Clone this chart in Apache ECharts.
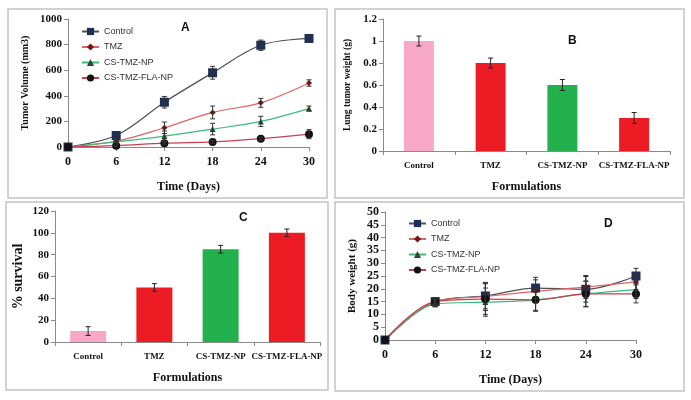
<!DOCTYPE html>
<html>
<head>
<meta charset="utf-8">
<script src="https://cdn.jsdelivr.net/npm/echarts@6/dist/echarts.min.js"></script>
<style>html,body{margin:0;padding:0;background:#fff;}#c{width:691px;height:400px;}</style>
</head>
<body>
<div id="c"></div>
<script>
// ---- Data ----
var days = [0, 6, 12, 18, 24, 30];
var seriesNames = ['Control', 'TMZ', 'CS-TMZ-NP', 'CS-TMZ-FLA-NP'];
// Panel A: tumor volume (mm3)
var volControl = [0, 90, 350, 580, 795, 848];
var volTMZ = [0, 45, 150, 270, 345, 500];
var volNP = [0, 40, 85, 140, 200, 300];
var volFLA = [0, 10, 30, 40, 65, 100];
var volControlErr = [0, 15, 45, 50, 40, 20];
var volTMZErr = [0, 10, 45, 50, 35, 25];
var volNPErr = [0, 10, 40, 45, 40, 20];
var volFLAErr = [0, 5, 8, 10, 12, 35];
// Panel B: lung tumor weight (g)
var formulations = ['Control', 'TMZ', 'CS-TMZ-NP', 'CS-TMZ-FLA-NP'];
var lungWeight = [1.0, 0.8, 0.6, 0.3];
var lungWeightErr = [0.045, 0.045, 0.05, 0.05];
// Panel C: % survival
var survival = [10, 50, 85, 100];
var survivalErr = [4, 3.5, 3.5, 3.5];
// Panel D: body weight (g)
var bwControl = [0, 15, 17.2, 20.3, 19.8, 25];
var bwTMZ = [0, 15, 17, 19, 20.7, 22.7];
var bwNP = [0, 14, 14.8, 15.6, 18, 19.7];
var bwFLA = [0, 15, 16, 15.7, 18, 18];
var bwControlErr = [0, 1, 5, 4.2, 5, 3];
var bwTMZErr = [0, 1, 5.5, 4.5, 4.5, 3];
var bwNPErr = [0, 1, 5.5, 4, 5, 3.5];
var bwFLAErr = [0, 1, 6, 4.5, 5, 3.5];

// ---- Styles ----
var lineColors = ['#505050', '#E06262', '#3DBA7A', '#C8404E'];
var markerColors = ['#1E2E55', '#7A1414', '#2E4A2E', '#111111'];
var symbols = ['rect', 'diamond', 'triangle', 'circle'];
var symbolSizes = [9, 6, 6, 8];
var barColors = ['#F7A8C6', '#ED1C24', '#22B14C', '#ED1C24'];
var serif = 'Liberation Serif';
var sans = 'Liberation Sans';

function errData(xs, vals, errs) {
  var out = [];
  for (var i = 0; i < vals.length; i++) {
    if (errs[i] > 0) out.push([xs[i], vals[i] - errs[i], vals[i] + errs[i]]);
  }
  return out;
}
function errSeries(xi, yi, data, color) {
  return {
    type: 'custom', xAxisIndex: xi, yAxisIndex: yi, z: 5, silent: true,
    data: data,
    renderItem: function (params, api) {
      var lo = api.coord([api.value(0), api.value(1)]);
      var hi = api.coord([api.value(0), api.value(2)]);
      var w = 2.5;
      var st = { stroke: color, lineWidth: 1 };
      return { type: 'group', children: [
        { type: 'line', shape: { x1: lo[0], y1: lo[1], x2: hi[0], y2: hi[1] }, style: st },
        { type: 'line', shape: { x1: lo[0] - w, y1: lo[1], x2: lo[0] + w, y2: lo[1] }, style: st },
        { type: 'line', shape: { x1: hi[0] - w, y1: hi[1], x2: hi[0] + w, y2: hi[1] }, style: st }
      ]};
    }
  };
}
function lineSeries(i, xi, yi, vals) {
  var d = [];
  for (var k = 0; k < days.length; k++) d.push([days[k], vals[k]]);
  return {
    name: seriesNames[i], type: 'line', xAxisIndex: xi, yAxisIndex: yi,
    smooth: 0.35, data: d, symbol: symbols[i], symbolSize: symbolSizes[i],
    lineStyle: { color: lineColors[i], width: 1.2 },
    itemStyle: { color: markerColors[i] }, z: 4
  };
}
function barData(vals) {
  return vals.map(function (v, i) { return { value: v, itemStyle: { color: barColors[i] } }; });
}

var axisLine = { show: true, lineStyle: { color: '#8a8a8a', width: 1 } };
var axisTick = { show: true, length: 4, lineStyle: { color: '#8a8a8a' } };

function valX(gi, name, gap) {
  return { type: 'value', gridIndex: gi, min: 0, max: 30, interval: 6,
    axisLine: axisLine, axisTick: axisTick, splitLine: { show: false },
    axisLabel: { fontFamily: serif, fontWeight: 'bold', fontSize: 12, color: '#111', margin: 9 },
    name: name, nameLocation: 'middle', nameGap: gap,
    nameTextStyle: { fontFamily: serif, fontWeight: 'bold', fontSize: 12, color: '#111' } };
}
function catX(gi, gap, fs) {
  return { type: 'category', gridIndex: gi, data: formulations,
    axisLine: axisLine, axisTick: axisTick, splitLine: { show: false },
    axisLabel: { fontFamily: serif, fontWeight: 'bold', fontSize: fs, color: '#111', margin: 10, interval: 0 },
    name: 'Formulations', nameLocation: 'middle', nameGap: gap,
    nameTextStyle: { fontFamily: serif, fontWeight: 'bold', fontSize: 12, color: '#111' } };
}
function plain(v) { return String(Math.round(v * 10) / 10); }
function valY(gi, min, max, interval, name, gap, nameSize, labelSize) {
  return { type: 'value', gridIndex: gi, min: min, max: max, interval: interval,
    axisLine: axisLine, axisTick: axisTick, splitLine: { show: false },
    axisLabel: { fontFamily: serif, fontWeight: 'bold', fontSize: labelSize, color: '#111', margin: 6, formatter: plain },
    name: name, nameLocation: 'middle', nameGap: gap,
    nameTextStyle: { fontFamily: serif, fontWeight: 'bold', fontSize: nameSize, color: '#111' } };
}

var legendCommon = {
  orient: 'vertical', itemGap: 6.5, itemWidth: 17, itemHeight: 9,
  textStyle: { fontFamily: sans, fontSize: 9, color: '#333' },
  data: seriesNames, selectedMode: false
};

var titleStyle = { fontFamily: sans, fontWeight: 'bold', fontSize: 12, color: '#111' };

var option = {
  animation: false,
  backgroundColor: '#fff',
  graphic: [
    { type: 'rect', shape: { x: 8, y: 9, width: 319, height: 189 }, style: { fill: 'none', stroke: '#c4c4c4', lineWidth: 1.5 } },
    { type: 'rect', shape: { x: 335, y: 9, width: 349, height: 189 }, style: { fill: 'none', stroke: '#c4c4c4', lineWidth: 1.5 } },
    { type: 'rect', shape: { x: 6, y: 202, width: 322, height: 188 }, style: { fill: 'none', stroke: '#c4c4c4', lineWidth: 1.5 } },
    { type: 'rect', shape: { x: 335, y: 202, width: 349, height: 189 }, style: { fill: 'none', stroke: '#c4c4c4', lineWidth: 1.5 } }
  ],
  title: [
    { text: 'A', left: 176, top: 17, textStyle: titleStyle },
    { text: 'B', left: 563, top: 30, textStyle: titleStyle },
    { text: 'C', left: 234, top: 207, textStyle: titleStyle },
    { text: 'D', left: 599, top: 213, textStyle: titleStyle }
  ],
  legend: [
    Object.assign({ left: 76, top: 22 }, legendCommon),
    Object.assign({ left: 403, top: 214 }, legendCommon)
  ],
  grid: [
    { left: 68, top: 19, width: 241, height: 128 },
    { left: 383, top: 19, width: 287, height: 132 },
    { left: 55, top: 211, width: 265, height: 131 },
    { left: 385, top: 212, width: 251, height: 128 }
  ],
  xAxis: [
    valX(0, 'Time (Days)', 34),
    catX(1, 30, 9),
    catX(2, 30, 9),
    valX(3, 'Time (Days)', 34)
  ],
  yAxis: [
    valY(0, 0, 1000, 200, 'Tumor Volume (mm3)', 38, 10, 11),
    valY(1, 0, 1.2, 0.2, 'Lung tumor weight (g)', 30, 9.5, 11),
    valY(2, 0, 120, 20, '% survival', 30, 14, 11),
    valY(3, 0, 50, 5, 'Body weight (g)', 27, 11, 12)
  ],
  series: [
    lineSeries(0, 0, 0, volControl),
    lineSeries(1, 0, 0, volTMZ),
    lineSeries(2, 0, 0, volNP),
    lineSeries(3, 0, 0, volFLA),
    errSeries(0, 0, errData(days, volControl, volControlErr), '#333'),
    errSeries(0, 0, errData(days, volTMZ, volTMZErr), '#333'),
    errSeries(0, 0, errData(days, volNP, volNPErr), '#333'),
    errSeries(0, 0, errData(days, volFLA, volFLAErr), '#333'),
    { type: 'bar', xAxisIndex: 1, yAxisIndex: 1, barWidth: 30, data: barData(lungWeight) },
    errSeries(1, 1, errData([0, 1, 2, 3], lungWeight, lungWeightErr), '#222'),
    { type: 'bar', xAxisIndex: 2, yAxisIndex: 2, barWidth: 36, data: barData(survival) },
    errSeries(2, 2, errData([0, 1, 2, 3], survival, survivalErr), '#222'),
    lineSeries(0, 3, 3, bwControl),
    lineSeries(1, 3, 3, bwTMZ),
    lineSeries(2, 3, 3, bwNP),
    lineSeries(3, 3, 3, bwFLA),
    errSeries(3, 3, errData(days, bwControl, bwControlErr), '#333'),
    errSeries(3, 3, errData(days, bwTMZ, bwTMZErr), '#333'),
    errSeries(3, 3, errData(days, bwNP, bwNPErr), '#333'),
    errSeries(3, 3, errData(days, bwFLA, bwFLAErr), '#333')
  ]
};
var chart = echarts.init(document.getElementById('c'), null, { renderer: 'canvas' });
chart.setOption(option);
</script>
</body>
</html>
